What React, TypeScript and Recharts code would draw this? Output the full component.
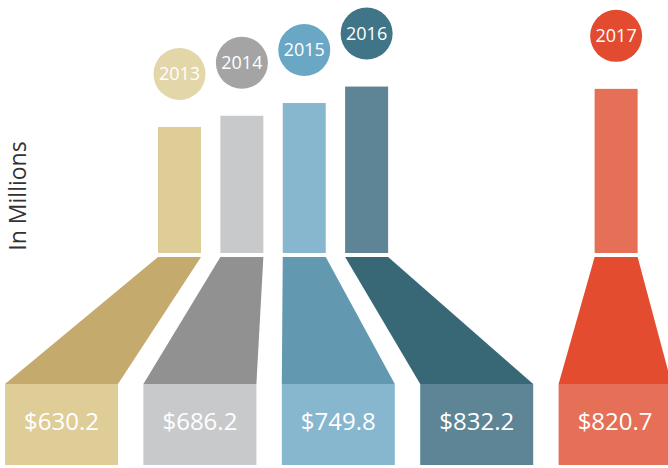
import React from 'react'
import { ComposedChart, Bar, XAxis, YAxis } from 'recharts'

const years = ['2013', '2014', '2015', '2016', '2017']
const revenue = [630.2, 686.2, 749.8, 832.2, 820.7]
// empty slots on the top axis that push 2017 away from the others
const gapSlots = ['gap1', 'gap2', 'gap3']

const circleColors = ['#e3d6a9', '#a4a4a4', '#6aa7c5', '#3f7587', '#e24b2f']
const barColors = ['#dfcd97', '#c8c9cb', '#87b6cf', '#5d8596', '#e66f57']
const funnelColors = ['#c4aa6c', '#919191', '#6298b0', '#386876', '#e34c2e']

const yearNums = years.map(Number)

const rows = [
  ...years.slice(0, 4).map((y, i) => ({ slot: y, year: y, yearNum: yearNums[i], value: revenue[i] })),
  ...gapSlots.map((g) => ({ slot: g, year: null, yearNum: null, value: null })),
  { slot: years[4], year: years[4], yearNum: yearNums[4], value: revenue[4] },
]

const FONT = '"Open Sans", sans-serif'

// the box bars render first and leave their x position here for the funnels
const boxPos: Record<string, { x: number; width: number }> = {}

function BoxShape(props: any) {
  const { x, y, width, height, payload } = props
  if (!payload || !payload.year || x == null || isNaN(x)) return null
  const i = years.indexOf(payload.year)
  const base = y + height
  boxPos[payload.year] = { x, width }
  return (
    <g>
      <rect x={x} y={base + 131} width={width} height={81} fill={barColors[i]} />
      <text
        x={x + width / 2}
        y={base + 169}
        dy="0.35em"
        textAnchor="middle"
        fill="#fff"
        fontSize={24}
        fontFamily={FONT}
      >
        {`$${payload.value.toFixed(1)}`}
      </text>
    </g>
  )
}

function TopShape(props: any) {
  const { x, y, width, height, payload } = props
  if (!payload || !payload.year) return null
  const i = years.indexOf(payload.year)
  const base = y + height
  const cx = x + width / 2
  const b = boxPos[payload.year]
  return (
    <g>
      {b && (
        <polygon
          points={`${x},${base + 4} ${x + width},${base + 4} ${b.x + b.width},${base + 131} ${b.x},${base + 131}`}
          fill={funnelColors[i]}
        />
      )}
      <rect x={x} y={y} width={width} height={height} fill={barColors[i]} />
      <circle cx={cx} cy={y - 53} r={26} fill={circleColors[i]} />
      <text
        x={cx}
        y={y - 53}
        dy="0.35em"
        textAnchor="middle"
        fill="#fff"
        fontSize={18}
        fontFamily={FONT}
      >
        {payload.year}
      </text>
    </g>
  )
}

export default function App() {
  return (
    <div
      style={{
        position: 'absolute',
        left: 0,
        top: 0,
        width: 668,
        height: 468,
        overflow: 'hidden',
        background: '#fff',
      }}
    >
      <div style={{ position: 'absolute', left: -8, top: 0 }}>
        <ComposedChart
          width={692}
          height={468}
          data={rows}
          margin={{ top: 53, right: 0, bottom: 215, left: 0 }}
        >
          <XAxis xAxisId="top" dataKey="slot" type="category" hide padding={{ left: 156, right: 37 }} />
          <XAxis
            xAxisId="bottom"
            dataKey="yearNum"
            type="number"
            domain={[2012.5, 2017.5]}
            ticks={yearNums}
            hide
          />
          <YAxis yAxisId="v" domain={[0, 1000]} hide />
          <Bar
            xAxisId="bottom"
            yAxisId="v"
            dataKey="value"
            barSize={113}
            shape={BoxShape}
            isAnimationActive={false}
          />
          <Bar
            xAxisId="top"
            yAxisId="v"
            dataKey="value"
            barSize={43}
            shape={TopShape}
            isAnimationActive={false}
          />
        </ComposedChart>
      </div>
      <div
        style={{
          position: 'absolute',
          left: 17,
          top: 196,
          transform: 'translate(-50%, -50%) rotate(-90deg)',
          whiteSpace: 'nowrap',
          fontFamily: FONT,
          fontSize: 23,
          color: '#333',
        }}
      >
        In Millions
      </div>
    </div>
  )
}
